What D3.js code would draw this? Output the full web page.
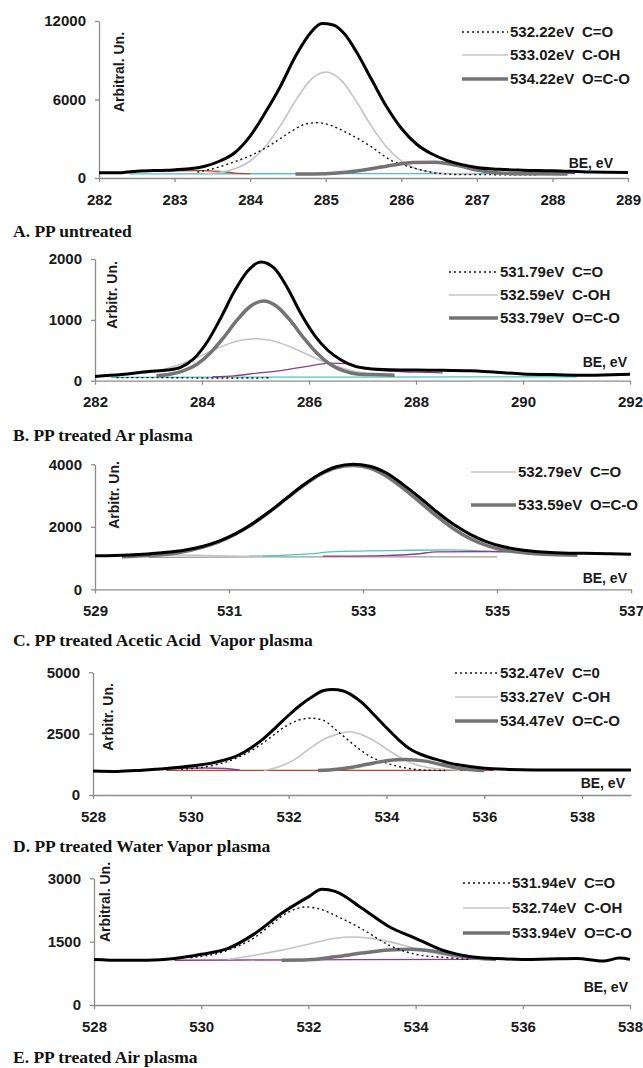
<!DOCTYPE html>
<html>
<head>
<meta charset="utf-8">
<script src="https://cdn.jsdelivr.net/npm/d3@7"></script>
<style>
    body { margin: 0; background: #fff; }
    svg { display: block; }
    .axis .domain, .axis line { stroke: #8c8c8c; stroke-width: 1.3; }
    .axis text { font-family: "Liberation Sans", Arial, sans-serif; font-weight: bold; font-size: 15px; fill: #1a1a1a; }
    .lbl { font-family: "Liberation Sans", Arial, sans-serif; font-weight: bold; fill: #1a1a1a; }
    .ttl { font-family: "Liberation Serif", "Times New Roman", serif; font-weight: bold; font-size: 17.5px; fill: #111; }
</style>
</head>
<body>
<svg id="chart" width="643" height="1068"></svg>
<script>
// ---- Panel A: PP untreated (binding energy eV, counts)
const xTicksA = [282, 283, 284, 285, 286, 287, 288, 289];
const yTicksA = [0, 6000, 12000];
const legendA = [["532.22eV", "C=O"], ["533.02eV", "C-OH"], ["534.22eV", "O=C-O"]];
const envA = [[282,400],[282.3,410],[282.5,520],[282.9,600],[283.2,700],[283.4,900],[283.6,1300],[283.8,1950],[284,3200],[284.2,5000],[284.4,7000],[284.6,9300],[284.8,11100],[284.95,11800],[285.1,11700],[285.25,11000],[285.4,9700],[285.6,7600],[285.8,5500],[286,3800],[286.2,2600],[286.4,1850],[286.6,1350],[286.8,1020],[287,800],[287.3,660],[287.6,600],[288,560],[288.5,450],[289,420]];
const coA = [[283.3,450],[283.5,700],[283.75,1150],[284,1700],[284.25,2450],[284.5,3400],[284.75,4150],[284.9,4230],[285.05,4050],[285.3,3400],[285.6,2400],[285.85,1400],[286.1,870],[286.3,560],[286.5,350],[286.8,260],[287.8,250]];
const cohA = [[283.4,330],[283.6,440],[283.8,700],[284,1300],[284.2,2400],[284.4,4000],[284.6,5900],[284.8,7500],[285,8100],[285.2,7500],[285.4,5900],[285.6,4000],[285.8,2400],[286,1300],[286.2,700],[286.4,440],[286.7,320],[287,300]];
const ocoA = [[284.6,300],[285,330],[285.3,450],[285.6,700],[285.9,1000],[286.15,1180],[286.45,1200],[286.75,950],[287,600],[287.3,380],[287.6,320],[288.2,300]];
const cyanA = [[282.4,320],[285,330],[288.3,340]];
const redA = [[282.9,540],[283.3,560],[283.6,500],[283.8,380],[284,330]];
const purpleA = [[287.2,330],[287.6,400],[288,420],[288.3,360]];

// ---- Panel B: PP treated Ar plasma
const xTicksB = [282, 284, 286, 288, 290, 292];
const yTicksB = [0, 1000, 2000];
const legendB = [["531.79eV", "C=O"], ["532.59eV", "C-OH"], ["533.79eV", "O=C-O"]];
const envB = [[282,70],[282.5,100],[283,150],[283.35,175],[283.6,220],[283.85,365],[284.1,640],[284.35,1030],[284.6,1460],[284.85,1800],[285.1,1950],[285.35,1850],[285.6,1520],[285.85,1100],[286.1,750],[286.35,500],[286.6,340],[286.85,240],[287.1,200],[287.5,180],[288,175],[288.5,170],[289,165],[289.5,140],[290,110],[290.5,100],[291,90],[291.5,95],[292,105]];
const coB = [[282.4,50],[283.3,50],[284,45],[285,45],[285.3,50]];
const cohB = [[282.9,118],[283.2,165],[283.5,240],[283.8,340],[284.1,460],[284.4,575],[284.7,660],[285,690],[285.3,660],[285.6,575],[285.9,460],[286.2,340],[286.5,240],[286.8,165],[287.1,118]];
const ocoB = [[283.15,81],[283.4,105],[283.65,160],[283.9,265],[284.15,450],[284.4,705],[284.65,990],[284.9,1220],[285.15,1310],[285.4,1220],[285.65,990],[285.9,705],[286.15,450],[286.4,265],[286.65,160],[286.9,110],[287.2,100],[287.6,90]];
const cyanB = [[282.3,55],[287,60],[291,65]];
const purpleB = [[284.2,65],[284.6,80],[285,120],[285.5,170],[286,240],[286.4,290],[286.7,280],[287,220],[287.4,160],[288,140],[288.5,130]];

// ---- Panel C: PP treated Acetic Acid Vapor plasma
const xTicksC = [529, 531, 533, 535, 537];
const yTicksC = [0, 2000, 4000];
const legendC = [["532.79eV", "C=O"], ["533.59eV", "O=C-O"]];
const envC = [[529,1070],[529.5,1100],[530,1170],[530.35,1260],[530.6,1370],[530.85,1540],[531.1,1780],[531.35,2100],[531.6,2480],[531.85,2900],[532.1,3320],[532.35,3680],[532.6,3920],[532.85,4000],[533.1,3940],[533.35,3720],[533.6,3350],[533.85,2930],[534.1,2480],[534.35,2080],[534.6,1760],[534.85,1520],[535.1,1360],[535.4,1250],[535.8,1180],[536.3,1150],[536.7,1140],[537,1120]];
const cohC = [[529.6,1090],[530.2,1100],[530.7,1080],[531.2,1060],[531.5,1050]];
const ocoC = [[529.4,1040],[529.8,1080],[530.2,1150],[530.6,1340],[530.85,1520],[531.1,1770],[531.35,2090],[531.6,2470],[531.85,2890],[532.1,3300],[532.35,3660],[532.6,3890],[532.85,3960],[533.1,3880],[533.35,3620],[533.6,3230],[533.85,2790],[534.1,2340],[534.35,1940],[534.6,1620],[534.85,1400],[535.1,1260],[535.4,1170],[535.8,1110],[536.2,1090]];
const cyanC = [[531.3,1060],[532.3,1150],[532.5,1200],[533.7,1250],[534.3,1260],[535,1200],[535.6,1170]];
const purpleC = [[532.4,1060],[533.3,1080],[533.8,1130],[534.1,1200],[535,1210],[535.8,1190]];
const greyC = [[529.8,1020],[531,1030],[532,1040],[533,1040],[534,1040],[535,1040]];

// ---- Panel D: PP treated Water Vapor plasma
const xTicksD = [528, 530, 532, 534, 536, 538];
const yTicksD = [0, 2500, 5000];
const legendD = [["532.47eV", "C=0"], ["533.27eV", "C-OH"], ["534.47eV", "O=C-O"]];
const envD = [[528,980],[528.5,960],[529,1010],[529.5,1080],[530,1180],[530.5,1330],[531,1650],[531.25,1950],[531.5,2320],[531.75,2780],[532,3250],[532.25,3680],[532.5,4020],[532.7,4250],[532.9,4300],[533.1,4250],[533.3,4060],[533.5,3760],[533.75,3260],[534,2740],[534.25,2250],[534.5,1850],[534.75,1620],[535,1460],[535.25,1320],[535.5,1220],[536,1090],[536.5,1040],[537,1020],[538,1020],[539,1020]];
const coD = [[529.8,1050],[530.3,1150],[530.7,1330],[531,1560],[531.3,1880],[531.6,2300],[531.9,2750],[532.2,3050],[532.45,3130],[532.7,3050],[533,2600],[533.3,2100],[533.6,1650],[534,1300],[534.4,1100],[534.8,1010],[535.2,1000]];
const cohD = [[531.5,1000],[531.8,1150],[532.1,1420],[532.4,1850],[532.7,2250],[533,2480],[533.25,2580],[533.5,2460],[533.8,2150],[534.1,1750],[534.4,1400],[534.7,1180],[535,1080],[535.5,1010]];
const ocoD = [[532.6,1000],[533,1050],[533.3,1130],[533.6,1250],[534,1400],[534.4,1450],[534.8,1380],[535.2,1200],[535.6,1060],[536,1000]];
const purpleD = [[529.5,1030],[529.8,1090],[530.3,1100],[530.7,1080],[531,1020]];
const redD = [[529.5,1000],[532.5,1000],[536.2,1000]];

// ---- Panel E: PP treated Air plasma
const xTicksE = [528, 530, 532, 534, 536, 538];
const yTicksE = [0, 1500, 3000];
const legendE = [["531.94eV", "C=O"], ["532.74eV", "C-OH"], ["533.94eV", "O=C-O"]];
const envE = [[528,1080],[528.5,1060],[529,1060],[529.5,1100],[530,1200],[530.5,1340],[531,1690],[531.5,2170],[532,2560],[532.25,2740],[532.5,2690],[533,2290],[533.5,1860],[534,1580],[534.5,1300],[535,1150],[535.5,1100],[536,1080],[536.5,1090],[537,1100],[537.5,1040],[537.8,1110],[538,1080]];
const coE = [[529.8,1120],[530.3,1220],[530.7,1400],[531,1600],[531.3,1900],[531.6,2180],[531.95,2320],[532.25,2260],[532.5,2120],[533,1800],[533.5,1420],[534,1200],[534.5,1130],[535,1080]];
const cohE = [[530.5,1080],[531,1180],[531.5,1300],[532,1440],[532.5,1580],[532.8,1610],[533.1,1590],[533.5,1500],[534,1340],[534.5,1190],[535,1100],[535.5,1070]];
const ocoE = [[531.5,1060],[532,1070],[532.5,1140],[533,1230],[533.5,1300],[533.9,1320],[534.3,1280],[534.7,1190],[535.1,1110],[535.5,1080]];
const purpleE = [[529.5,1060],[532,1070],[535,1080],[536,1080]];

// line styles
const styles = {
    env: { stroke: "#000", width: 3 },
    co: { stroke: "#111", width: 1.4, dash: "2,3" },
    coh: { stroke: "#c4c4c4", width: 1.6 },
    oco: { stroke: "#737373", width: 3.5 },
    cyan: { stroke: "#4ec3c6", width: 1.3 },
    purple: { stroke: "#8e3b8e", width: 1.3 },
    red: { stroke: "#b3472f", width: 1.3 },
    grey: { stroke: "#9a9a9a", width: 1.2 }
};

// layout of the five panels
const panels = [
    { title: "A. PP untreated", titleY: 237, xDomain: [282, 289], xTicks: xTicksA, xRange: [99, 628],
      yDomain: [0, 12000], yTicks: yTicksA, yRange: [178, 21], yLabel: "Arbitral. Un.", yLabelPos: [124, 72],
      bePos: [613, 168], legend: legendA, legendKeys: ["co", "coh", "oco"], legendLine: [462, 508], legendRows: [32, 55, 79],
      series: [["cyan", cyanA], ["red", redA], ["purple", purpleA], ["coh", cohA], ["co", coA], ["oco", ocoA], ["env", envA]] },
    { title: "B. PP treated Ar plasma", titleY: 441, xDomain: [282, 292], xTicks: xTicksB, xRange: [95, 630],
      yDomain: [0, 2000], yTicks: yTicksB, yRange: [380.7, 259], yLabel: "Arbitr. Un.", yLabelPos: [117, 295],
      bePos: [627, 367], legend: legendB, legendKeys: ["co", "coh", "oco"], legendLine: [449, 498], legendRows: [272, 295, 318],
      series: [["cyan", cyanB], ["co", coB], ["purple", purpleB], ["coh", cohB], ["oco", ocoB], ["env", envB]] },
    { title: "C. PP treated Acetic Acid  Vapor plasma", titleY: 646, xDomain: [529, 537], xTicks: xTicksC, xRange: [95, 631],
      yDomain: [0, 4000], yTicks: yTicksC, yRange: [589.3, 464.3], yLabel: "Arbitr. Un.", yLabelPos: [119, 495],
      bePos: [627, 583], legend: legendC, legendKeys: ["coh", "oco"], legendLine: [471, 516], legendRows: [472, 505],
      series: [["grey", greyC], ["cyan", cyanC], ["purple", purpleC], ["coh", cohC], ["oco", ocoC], ["env", envC]] },
    { title: "D. PP treated Water Vapor plasma", titleY: 852, xDomain: [528, 539], xTicks: xTicksD, xRange: [93, 631],
      yDomain: [0, 5000], yTicks: yTicksD, yRange: [795, 672.3], yLabel: "Arbitr. Un.", yLabelPos: [113, 717],
      bePos: [625, 788], legend: legendD, legendKeys: ["co", "coh", "oco"], legendLine: [455, 498], legendRows: [673, 697, 721],
      series: [["red", redD], ["purple", purpleD], ["coh", cohD], ["co", coD], ["oco", ocoD], ["env", envD]] },
    { title: "E. PP treated Air plasma", titleY: 1063, xDomain: [528, 538], xTicks: xTicksE, xRange: [94, 630],
      yDomain: [0, 3000], yTicks: yTicksE, yRange: [1005, 878.3], yLabel: "Arbitral. Un.", yLabelPos: [110, 902],
      bePos: [628, 992], legend: legendE, legendKeys: ["co", "coh", "oco"], legendLine: [463, 510], legendRows: [883, 908, 933],
      series: [["purple", purpleE], ["coh", cohE], ["oco", ocoE], ["co", coE], ["env", envE]] }
];

const svg = d3.select("#chart");

function applyStyle(sel, key) {
    const s = styles[key];
    sel.attr("fill", "none")
        .attr("stroke", s.stroke)
        .attr("stroke-width", s.width)
        .attr("stroke-linejoin", "round")
        .attr("stroke-dasharray", s.dash || null);
}

function drawPanel(p) {
    const x = d3.scaleLinear().domain(p.xDomain).range(p.xRange);
    const y = d3.scaleLinear().domain(p.yDomain).range(p.yRange);
    const g = svg.append("g");

    // axes
    g.append("g").attr("class", "axis")
        .attr("transform", `translate(0,${p.yRange[0]})`)
        .call(d3.axisBottom(x).tickValues(p.xTicks).tickFormat(d3.format("d"))
            .tickSize(4).tickSizeOuter(0).tickPadding(12));
    g.append("g").attr("class", "axis")
        .attr("transform", `translate(${p.xRange[0]},0)`)
        .call(d3.axisLeft(y).tickValues(p.yTicks).tickFormat(d3.format("d"))
            .tickSize(4).tickSizeOuter(0).tickPadding(9));

    // curves
    const line = d3.line()
        .x(d => x(d[0]))
        .y(d => y(d[1]))
        .curve(d3.curveMonotoneX);
    p.series.forEach(([key, data]) => {
        g.append("path").attr("d", line(data)).call(applyStyle, key);
    });

    // axis titles
    g.append("text").attr("class", "lbl")
        .attr("transform", `translate(${p.yLabelPos[0]},${p.yLabelPos[1]}) rotate(-90)`)
        .attr("text-anchor", "middle").attr("font-size", 14)
        .text(p.yLabel);
    g.append("text").attr("class", "lbl")
        .attr("x", p.bePos[0]).attr("y", p.bePos[1])
        .attr("text-anchor", "end").attr("font-size", 14)
        .text("BE, eV");

    // legend
    p.legend.forEach((row, i) => {
        const ly = p.legendRows[i];
        g.append("line")
            .attr("x1", p.legendLine[0]).attr("x2", p.legendLine[1])
            .attr("y1", ly).attr("y2", ly)
            .call(applyStyle, p.legendKeys[i]);
        g.append("text").attr("class", "lbl").attr("font-size", 15)
            .attr("x", p.legendLine[1] + 2).attr("y", ly + 5).text(row[0]);
        g.append("text").attr("class", "lbl").attr("font-size", 15)
            .attr("x", p.legendLine[1] + 74).attr("y", ly + 5).text(row[1]);
    });

    // panel caption
    g.append("text").attr("class", "ttl")
        .attr("x", 13).attr("y", p.titleY)
        .attr("xml:space", "preserve")
        .text(p.title);
}

panels.forEach(drawPanel);
</script>
</body>
</html>
